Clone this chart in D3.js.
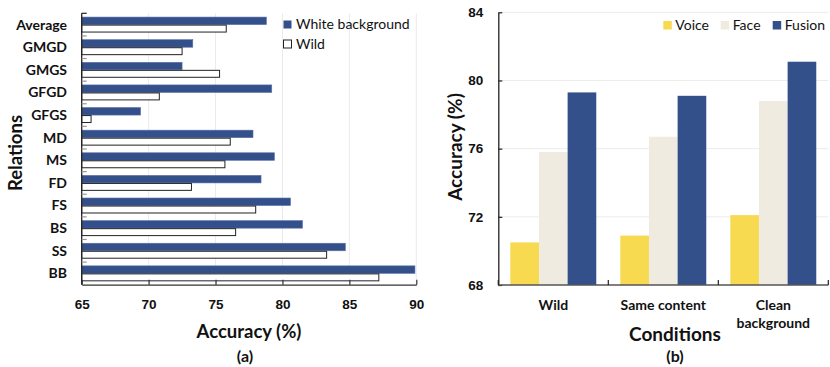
<!DOCTYPE html>
<html>
<head>
<meta charset="utf-8">
<script src="https://cdn.jsdelivr.net/npm/d3@7"></script>
<style>
  html, body { margin: 0; padding: 0; background: #fff; }
  svg { display: block; font-family: Lato, "Open Sans", sans-serif; }
</style>
</head>
<body>
<svg id="chart" width="830" height="367"></svg>
<script>
// ---- Panel (a): accuracy per kinship relation ----
const relations = ["Average", "GMGD", "GMGS", "GFGD", "GFGS", "MD", "MS", "FD", "FS", "BS", "SS", "BB"];
const whiteBackground = [78.8, 73.3, 72.5, 79.2, 69.4, 77.8, 79.4, 78.4, 80.6, 81.5, 84.7, 89.9];
const wild = [75.8, 72.5, 75.3, 70.8, 65.7, 76.1, 75.7, 73.2, 78.0, 76.5, 83.3, 87.2];
const accuracyTicksA = [65, 70, 75, 80, 85, 90];
const seriesA = ["White background", "Wild"];

// ---- Panel (b): accuracy per recording condition ----
const conditions = ["Wild", "Same content", "Clean background"];
const conditionLines = [["Wild"], ["Same content"], ["Clean", "background"]];
const voice = [70.5, 70.9, 72.1];
const face = [75.8, 76.7, 78.8];
const fusion = [79.3, 79.1, 81.1];
const modalities = ["Voice", "Face", "Fusion"];
const accuracyTicksB = [68, 72, 76, 80, 84];

const BLUE = "#34508a";
const colorsB = ["#f7da50", "#efebe0", BLUE];

const svg = d3.select("#chart");

// ================= Panel (a) =================
{
  const left = 81.7, right = 416.3, top = 13.3, bottom = 284.7;
  const x = d3.scaleLinear().domain([65, 90]).range([left, right]);
  const y = d3.scaleBand().domain(relations).range([top, bottom]);
  const inner = d3.scaleBand().domain(seriesA).range([0, y.bandwidth()]).paddingInner(0).paddingOuter(0.5);

  const g = svg.append("g");

  // vertical grid lines
  g.append("g").selectAll("line").data(accuracyTicksA.slice(1)).join("line")
    .attr("x1", d => x(d)).attr("x2", d => x(d))
    .attr("y1", top).attr("y2", bottom)
    .attr("stroke", "#ebebeb").attr("stroke-width", 1);

  // bars
  const rows = relations.map((r, i) => ({ r, vals: [whiteBackground[i], wild[i]] }));
  const rowG = g.append("g").selectAll("g").data(rows).join("g")
    .attr("transform", d => `translate(0,${y(d.r)})`);
  rowG.selectAll("rect").data(d => d.vals.map((v, k) => ({ v, s: seriesA[k] }))).join("rect")
    .attr("x", x(65))
    .attr("y", d => inner(d.s) + (d.s === "Wild" ? 0.5 : 0))
    .attr("width", d => x(d.v) - x(65))
    .attr("height", d => inner.bandwidth() - (d.s === "Wild" ? 0.6 : 0))
    .attr("fill", d => d.s === "Wild" ? "#fff" : BLUE)
    .attr("stroke", d => d.s === "Wild" ? "#222" : "#5a72a8")
    .attr("stroke-width", d => d.s === "Wild" ? 1 : 0.6);

  // x axis (ticks pointing up)
  const xAxis = d3.axisBottom(x).tickValues(accuracyTicksA).tickSizeInner(-5).tickSizeOuter(0).tickPadding(15);
  const xa = g.append("g").attr("transform", `translate(0,${bottom})`).call(xAxis);
  xa.select(".domain").attr("stroke", "#333").attr("stroke-width", 1.3);
  xa.selectAll(".tick line").attr("stroke", "#333").attr("stroke-width", 1.2);
  xa.selectAll(".tick text").attr("font-size", 13.5).attr("font-weight", "bold").attr("fill", "#111");

  // y axis line with boundary ticks pointing right
  g.append("line").attr("x1", left).attr("x2", left).attr("y1", top).attr("y2", bottom)
    .attr("stroke", "#222").attr("stroke-width", 1.3);
  g.append("g").selectAll("line").data(relations).join("line")
    .attr("x1", left).attr("x2", left + 5)
    .attr("y1", d => y(d)).attr("y2", d => y(d))
    .attr("stroke", (d, i) => i === 0 ? "#222" : "#999").attr("stroke-width", 1.2);

  // category labels
  g.append("g").selectAll("text").data(relations).join("text")
    .attr("x", 67).attr("y", d => y(d) + y.bandwidth() / 2)
    .attr("dy", "0.35em").attr("text-anchor", "end")
    .attr("font-size", 14).attr("font-weight", "bold").attr("fill", "#111")
    .text(d => d);

  // axis titles
  g.append("text").attr("transform", `translate(16,153) rotate(-90)`)
    .attr("text-anchor", "middle").attr("dy", "0.35em")
    .attr("font-size", 18.5).attr("font-weight", "bold").attr("fill", "#111").text("Relations");
  g.append("text").attr("x", (left + right) / 2).attr("y", 332).attr("dy", "0.35em")
    .attr("text-anchor", "middle").attr("font-size", 18.5).attr("font-weight", "bold").attr("fill", "#111")
    .text("Accuracy (%)");
  g.append("text").attr("x", 245).attr("y", 356.5).attr("dy", "0.35em")
    .attr("text-anchor", "middle").attr("font-size", 16).attr("font-weight", "bold").attr("fill", "#111")
    .text("(a)");

  // legend
  const leg = g.append("g").selectAll("g").data(seriesA).join("g")
    .attr("transform", (d, i) => `translate(283.5,${24.5 + i * 19.5})`);
  leg.append("rect").attr("x", 0).attr("y", -4).attr("width", 8).attr("height", 8)
    .attr("fill", (d, i) => i === 0 ? BLUE : "#fff")
    .attr("stroke", (d, i) => i === 0 ? "none" : "#222").attr("stroke-width", 1);
  leg.append("text").attr("x", 12.5).attr("dy", "0.35em")
    .attr("font-size", 14).attr("fill", "#111").text(d => d);
}

// ================= Panel (b) =================
{
  const left = 498.3, right = 828.3, top = 12.3, bottom = 285;
  const x = d3.scaleBand().domain(conditions).range([left, right]);
  const inner = d3.scaleBand().domain(modalities).range([0, x.bandwidth()]).paddingInner(0).paddingOuter(0.42);
  const y = d3.scaleLinear().domain([68, 84]).range([bottom, top]);

  const g = svg.append("g");

  // horizontal grid lines
  g.append("g").selectAll("line").data(accuracyTicksB.slice(1)).join("line")
    .attr("x1", left).attr("x2", right)
    .attr("y1", d => y(d)).attr("y2", d => y(d))
    .attr("stroke", "#ececec").attr("stroke-width", 1);

  // bars
  const groups = conditions.map((c, i) => ({ c, vals: [voice[i], face[i], fusion[i]] }));
  const grp = g.append("g").selectAll("g").data(groups).join("g")
    .attr("transform", d => `translate(${x(d.c)},0)`);
  grp.selectAll("rect").data(d => d.vals.map((v, k) => ({ v, m: modalities[k], k }))).join("rect")
    .attr("x", d => inner(d.m))
    .attr("y", d => y(d.v))
    .attr("width", inner.bandwidth())
    .attr("height", d => y(68) - y(d.v))
    .attr("fill", d => colorsB[d.k]);

  // y axis (ticks pointing right)
  const yAxis = d3.axisLeft(y).tickValues(accuracyTicksB).tickSizeInner(-4).tickSizeOuter(0).tickPadding(15);
  const ya = g.append("g").attr("transform", `translate(${left},0)`).call(yAxis);
  ya.select(".domain").attr("stroke", "#222").attr("stroke-width", 1.3);
  ya.selectAll(".tick line").attr("stroke", "#222").attr("stroke-width", 1.2);
  ya.selectAll(".tick text").attr("font-size", 13.5).attr("font-weight", "bold").attr("fill", "#111");

  // x axis line with group boundary ticks pointing up
  g.append("line").attr("x1", left).attr("x2", right).attr("y1", bottom).attr("y2", bottom)
    .attr("stroke", "#555").attr("stroke-width", 1.4);
  const bounds = conditions.map(c => x(c)).concat([right]);
  g.append("g").selectAll("line").data(bounds).join("line")
    .attr("x1", d => d).attr("x2", d => d).attr("y1", bottom).attr("y2", bottom - 5)
    .attr("stroke", "#222").attr("stroke-width", 1.2);

  // category labels
  const lab = g.append("g").selectAll("text").data(conditions).join("text")
    .attr("x", d => x(d) + x.bandwidth() / 2).attr("y", 305)
    .attr("text-anchor", "middle").attr("font-size", 14).attr("font-weight", "bold").attr("fill", "#111");
  lab.selectAll("tspan").data((d, i) => conditionLines[i]).join("tspan")
    .attr("x", function () { return this.parentNode.getAttribute("x"); })
    .attr("dy", (d, i) => i === 0 ? "0.35em" : "1.3em")
    .text(d => d);

  // axis titles
  g.append("text").attr("transform", `translate(455,147) rotate(-90)`)
    .attr("text-anchor", "middle").attr("dy", "0.35em")
    .attr("font-size", 19).attr("font-weight", "bold").attr("fill", "#111").text("Accuracy (%)");
  g.append("text").attr("x", 675).attr("y", 334).attr("dy", "0.35em")
    .attr("text-anchor", "middle").attr("font-size", 19).attr("font-weight", "bold").attr("fill", "#111")
    .text("Conditions");
  g.append("text").attr("x", 675).attr("y", 356.5).attr("dy", "0.35em")
    .attr("text-anchor", "middle").attr("font-size", 16).attr("font-weight", "bold").attr("fill", "#111")
    .text("(b)");

  // legend
  const legX = [663.3, 720.7, 772.7];
  const leg = g.append("g").selectAll("g").data(modalities).join("g")
    .attr("transform", (d, i) => `translate(${legX[i]},25)`);
  leg.append("rect").attr("x", 0).attr("y", -4).attr("width", 8.5).attr("height", 8.5)
    .attr("fill", (d, i) => colorsB[i]);
  leg.append("text").attr("x", 12).attr("dy", "0.35em")
    .attr("font-size", 14).attr("fill", "#111").text(d => d);
}
</script>
</body>
</html>
